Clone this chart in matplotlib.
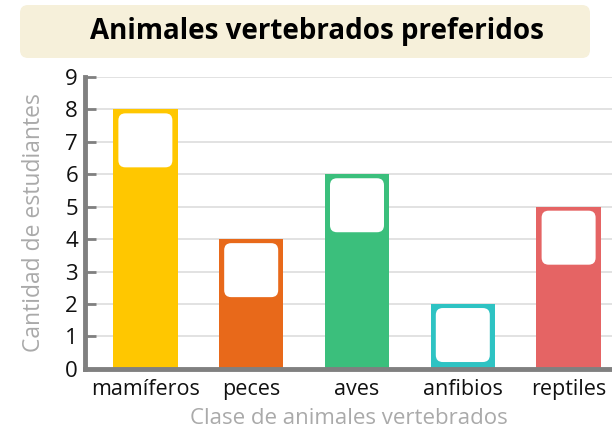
import matplotlib
matplotlib.use('Agg')
import matplotlib.pyplot as plt
from matplotlib.patches import FancyBboxPatch

plt.rcParams['font.family'] = ['Open Sans', 'DejaVu Sans']

# datos
categorias = ['mamíferos', 'peces', 'aves', 'anfibios', 'reptiles']
valores = [8, 4, 6, 2, 5]
colores = ['#FFC700', '#E8691A', '#3BBF7C', '#2EC3C3', '#E56464']
y_ticks = list(range(0, 10))

fig = plt.figure(figsize=(6.12, 4.32), dpi=100)
ax = fig.add_axes([0.139, 0.146, 0.861, 0.676])

x = list(range(len(categorias)))
ax.bar(x, valores, width=0.61, color=colores, zorder=2)

ax.set_xlim(-0.57, 4.41)
ax.set_ylim(0, 9)
ax.set_yticks(y_ticks)
ax.set_xticks(x)
ax.set_xticklabels(categorias, fontsize=15.5, color='#111111')
ax.tick_params(axis='y', direction='in', length=8, width=2, color='#808080',
               labelsize=16, labelcolor='#111111', pad=5)
ax.tick_params(axis='x', length=0, pad=7)

ax.grid(axis='y', color='#DDDDDD', linewidth=1.2, zorder=0)
ax.set_axisbelow(True)
for s in ['top', 'right']:
    ax.spines[s].set_visible(False)
for s in ['left', 'bottom']:
    ax.spines[s].set_color('#808080')
    ax.spines[s].set_linewidth(3.5)
    ax.spines[s].set_zorder(3)

ax.set_ylabel('Cantidad de estudiantes', fontsize=16.5, color='#AAAAAA', labelpad=14)
ax.set_xlabel('Clase de animales vertebrados', fontsize=16, color='#AAAAAA', labelpad=6)

# cajas blancas redondeadas dentro de cada barra
p0 = ax.transData.transform((0, 0))
p1 = ax.transData.transform((1, 1))
px_x = p1[0] - p0[0]   # pixeles por unidad x
px_y = p1[1] - p0[1]   # pixeles por unidad y
caja_px = 54
w = caja_px / px_x
h = caja_px / px_y
for xi, v in zip(x, valores):
    top = v - 4 / px_y
    caja = FancyBboxPatch((xi - w / 2, top - h), w, h,
                          boxstyle='round,pad=0,rounding_size=%f' % (7 / px_x),
                          mutation_aspect=px_x / px_y,
                          facecolor='white', edgecolor='none', zorder=3)
    ax.add_patch(caja)

# caja del titulo
titulo_box = FancyBboxPatch((0.20, 3.74), 5.70, 0.53,
                            boxstyle='round,pad=0,rounding_size=0.08',
                            transform=fig.dpi_scale_trans,
                            facecolor='#F6F0DA', edgecolor='none')
fig.patches.append(titulo_box)
fig.text(317 / 612, 1 - 31 / 432, 'Animales vertebrados preferidos',
         ha='center', va='center', fontsize=20, fontweight='bold', color='#000000')

fig.savefig('out.png', dpi=100)
